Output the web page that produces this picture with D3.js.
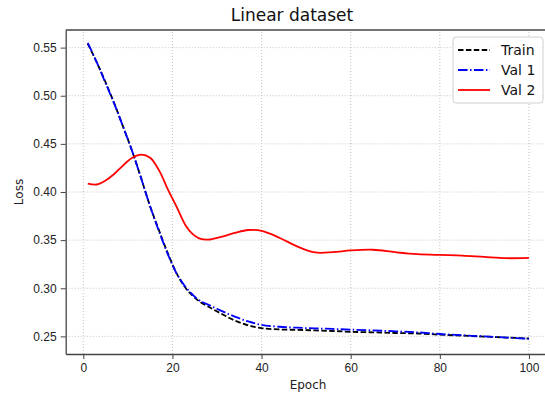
<!DOCTYPE html>
<html>
<head>
<meta charset="utf-8">
<script src="https://cdn.jsdelivr.net/npm/d3@7"></script>
<style>
  body { margin: 0; background: #fff; }
  svg { display: block; font-family: "DejaVu Sans", sans-serif; }
  .grid line { stroke: #b0b0b0; stroke-width: 0.9; stroke-dasharray: 1,2; stroke-opacity: 0.85; }
  .axis path, .axis line { stroke: #444; }
  .axis text { fill: #222; font-size: 12px; }
</style>
</head>
<body>
<div id="vis"></div>
<script>
'use strict'

let epochs = [1, 3, 5, 7, 9, 11, 13, 15, 17, 19, 21, 23, 24.5, 26, 28, 31, 34, 37, 40,
	44, 48, 52, 56, 60, 65, 70, 75, 80, 85, 90, 95, 100]

let trainLoss = [0.554, 0.535, 0.514, 0.4915, 0.467, 0.442, 0.414, 0.385, 0.360, 0.336,
	0.315, 0.300, 0.2925, 0.2865, 0.281, 0.2735, 0.2665, 0.2615, 0.2585, 0.2572, 0.2568,
	0.2562, 0.2556, 0.2548, 0.2542, 0.2535, 0.2530, 0.2518, 0.2508, 0.2498, 0.2488, 0.2478]

let val1Loss = [0.555, 0.535, 0.513, 0.491, 0.467, 0.442, 0.414, 0.385, 0.359, 0.335,
	0.315, 0.301, 0.2935, 0.2875, 0.283, 0.2765, 0.2705, 0.2655, 0.2620, 0.2600, 0.2590,
	0.2583, 0.2577, 0.2570, 0.2562, 0.2553, 0.2542, 0.2525, 0.2512, 0.2500, 0.2488, 0.2474]

let val2Loss = [0.4088, 0.4078, 0.412, 0.419, 0.428, 0.4355, 0.4388, 0.4355, 0.4225, 0.4025,
	0.384, 0.365, 0.3565, 0.3518, 0.3505, 0.3535, 0.3575, 0.3605, 0.3595, 0.3525, 0.3435,
	0.3372, 0.3375, 0.3393, 0.3400, 0.3375, 0.3355, 0.3346, 0.3340, 0.3325, 0.3312, 0.3315]

let xTicks = [0, 20, 40, 60, 80, 100]
let yTicks = [0.25, 0.30, 0.35, 0.40, 0.45, 0.50, 0.55]

let seriesNames = ["Train", "Val 1", "Val 2"]
let seriesColors = ["#000000", "#0000ff", "#ff0000"]
let seriesDash = ["5.5,2.4", "9.6,2.4,1.5,2.4", null]

let width = 545, height = 395
let margin = {left: 65.7, right: -6, top: 30, bottom: 41}

let svg = d3.select("#vis").append("svg")
	.attr("width", width)
	.attr("height", height)

let x = d3.scaleLinear().domain([-3.95, 104.95]).range([margin.left, width - margin.right])
let y = d3.scaleLinear().domain([0.2317, 0.5683]).range([height - margin.bottom, margin.top])

// grid
let grid = svg.append("g").attr("class", "grid")
grid.selectAll(".gx").data(xTicks).enter().append("line")
	.attr("x1", d => x(d)).attr("x2", d => x(d))
	.attr("y1", y.range()[0]).attr("y2", y.range()[1])
grid.selectAll(".gy").data(yTicks).enter().append("line")
	.attr("x1", x.range()[0]).attr("x2", x.range()[1])
	.attr("y1", d => y(d)).attr("y2", d => y(d))

// lines
let line = d3.line()
	.x(d => x(d[0]))
	.y(d => y(d[1]))
	.curve(d3.curveCatmullRom.alpha(0.5))

let allSeries = [trainLoss, val1Loss, val2Loss]
allSeries.forEach(function(vals, i){
	let pts = epochs.map((e, j) => [e, vals[j]])
	svg.append("path").datum(pts)
		.attr("d", line)
		.attr("fill", "none")
		.attr("stroke", seriesColors[i])
		.attr("stroke-width", 1.8)
		.attr("stroke-dasharray", seriesDash[i])
})

// axes
let xAxis = svg.append("g").attr("class", "axis")
	.attr("transform", "translate(0," + y.range()[0] + ")")
	.call(d3.axisBottom(x).tickValues(xTicks).tickSize(5).tickPadding(4).tickSizeOuter(0))
xAxis.select(".domain").attr("stroke-width", 1.3)

let yAxis = svg.append("g").attr("class", "axis")
	.attr("transform", "translate(" + x.range()[0] + ",0)")
	.call(d3.axisLeft(y).tickValues(yTicks).tickFormat(d3.format(".2f")).tickSize(5).tickPadding(4).tickSizeOuter(0))
yAxis.select(".domain").attr("stroke-width", 1.3)

// top spine
svg.append("line")
	.attr("x1", x.range()[0]).attr("x2", x.range()[1])
	.attr("y1", y.range()[1]).attr("y2", y.range()[1])
	.attr("stroke", "#444").attr("stroke-width", 1.3)

// labels
svg.append("text")
	.attr("x", 292).attr("y", 21)
	.attr("text-anchor", "middle")
	.attr("font-size", 17)
	.attr("fill", "#111")
	.text("Linear dataset")

svg.append("text")
	.attr("x", 308).attr("y", 389)
	.attr("text-anchor", "middle")
	.attr("font-size", 12)
	.attr("fill", "#222")
	.text("Epoch")

svg.append("text")
	.attr("transform", "translate(23," + ((y.range()[0] + y.range()[1]) / 2) + ") rotate(-90)")
	.attr("text-anchor", "middle")
	.attr("font-size", 12)
	.attr("fill", "#222")
	.text("Loss")

// legend
let legend = svg.append("g").attr("transform", "translate(453,37)")
legend.append("rect")
	.attr("width", 90).attr("height", 66)
	.attr("rx", 3)
	.attr("fill", "#fff").attr("fill-opacity", 0.85)
	.attr("stroke", "#d0d0d0")

seriesNames.forEach(function(name, i){
	let ly = 13 + i * 20
	legend.append("line")
		.attr("x1", 5).attr("x2", 37)
		.attr("y1", ly).attr("y2", ly)
		.attr("stroke", seriesColors[i])
		.attr("stroke-width", 1.8)
		.attr("stroke-dasharray", seriesDash[i])
	legend.append("text")
		.attr("x", 48).attr("y", ly + 5)
		.attr("font-size", 14)
		.attr("fill", "#111")
		.text(name)
})
</script>
</body>
</html>
